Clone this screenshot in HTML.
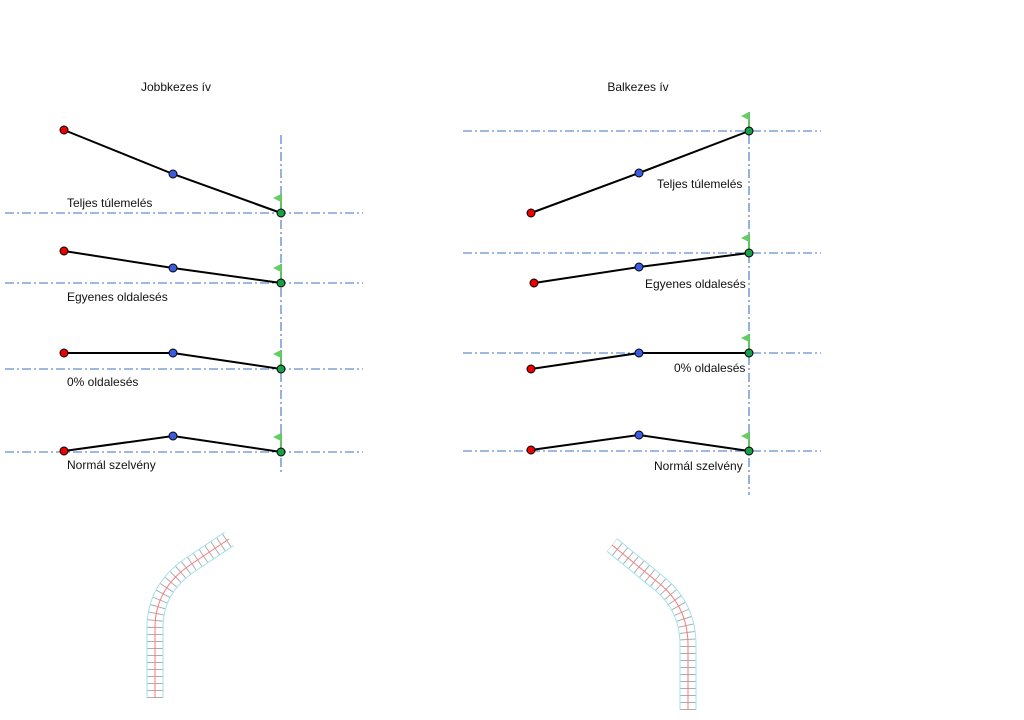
<!DOCTYPE html>
<html><head><meta charset="utf-8"><style>body{margin:0;background:#fff}svg{display:block}text{font-family:"Liberation Sans",sans-serif;font-size:12px;fill:#111}</style></head><body>
<svg width="1024" height="720" viewBox="0 0 1024 720">
<defs>
<g id="flag"><line x1="0" y1="0" x2="0" y2="-19" stroke="#5b5" stroke-width="1.8"/><polygon points="0,-19 -8,-15 0,-11" fill="#6c6"/></g>
</defs>
<g stroke="#3f72c4" stroke-width="1.1" stroke-dasharray="9,3,2,3" fill="none">
<line x1="5" y1="213" x2="363" y2="213"/><line x1="5" y1="283" x2="363" y2="283"/><line x1="5" y1="369" x2="363" y2="369"/><line x1="5" y1="452" x2="363" y2="452"/>
<line x1="281" y1="135" x2="281" y2="475"/>
<line x1="463" y1="131" x2="821" y2="131"/><line x1="463" y1="253" x2="821" y2="253"/><line x1="463" y1="353" x2="821" y2="353"/><line x1="463" y1="451" x2="821" y2="451"/>
<line x1="749" y1="118" x2="749" y2="495"/>
</g>
<g stroke="#000" stroke-width="2" fill="none">
<polyline points="64,130 173,174 281,213"/><polyline points="64,251 173,268 281,283"/><polyline points="64,353 173,353 281,369"/><polyline points="64,451 173,436 281,452"/>
<polyline points="531,213 639,173 749,131"/><polyline points="534,283 639,267 749,253"/><polyline points="531,369 639,353 749,353"/><polyline points="531,450 639,435 749,451"/>
</g>
<g>
<use href="#flag" x="281" y="213"/><use href="#flag" x="281" y="283"/><use href="#flag" x="281" y="369"/><use href="#flag" x="281" y="452"/>
<use href="#flag" x="749" y="131"/><use href="#flag" x="749" y="253"/><use href="#flag" x="749" y="353"/><use href="#flag" x="749" y="451"/>
</g>
<g stroke="#000" stroke-width="1">
<g fill="#e00"><circle cx="64" cy="130" r="4"/><circle cx="64" cy="251" r="4"/><circle cx="64" cy="353" r="4"/><circle cx="64" cy="451" r="4"/><circle cx="531" cy="213" r="4"/><circle cx="534" cy="283" r="4"/><circle cx="531" cy="369" r="4"/><circle cx="531" cy="450" r="4"/></g>
<g fill="#3a5de0"><circle cx="173" cy="174" r="4"/><circle cx="173" cy="268" r="4"/><circle cx="173" cy="353" r="4"/><circle cx="173" cy="436" r="4"/><circle cx="639" cy="173" r="4"/><circle cx="639" cy="267" r="4"/><circle cx="639" cy="353" r="4"/><circle cx="639" cy="435" r="4"/></g>
<g fill="#1a9e4a"><circle cx="281" cy="213" r="4"/><circle cx="281" cy="283" r="4"/><circle cx="281" cy="369" r="4"/><circle cx="281" cy="452" r="4"/><circle cx="749" cy="131" r="4"/><circle cx="749" cy="253" r="4"/><circle cx="749" cy="353" r="4"/><circle cx="749" cy="451" r="4"/></g>
</g>
<text x="176" y="91" text-anchor="middle">Jobbkezes ív</text>
<text x="638" y="91" text-anchor="middle">Balkezes ív</text>
<text x="67" y="207">Teljes túlemelés</text><text x="67" y="301">Egyenes oldalesés</text><text x="67" y="386">0% oldalesés</text><text x="67" y="469">Normál szelvény</text>
<text x="657" y="188">Teljes túlemelés</text><text x="645" y="288">Egyenes oldalesés</text><text x="674" y="372">0% oldalesés</text><text x="654" y="470">Normál szelvény</text>
<g fill="none">
<path d="M155,698 L155,628 C155,600 168,580 190,565 L229,539" stroke="#9ee3f0" stroke-width="17"/>
<path d="M155,698 L155,628 C155,600 168,580 190,565 L229,539" stroke="#fff" stroke-width="15"/>
<path d="M155,698 L155,628 C155,600 168,580 190,565 L229,539" stroke="#777" stroke-width="15" stroke-dasharray="1,6" opacity="0.6"/>
<path d="M155,698 L155,628 C155,600 168,580 190,565 L229,539" stroke="#f77" stroke-width="1"/>
<path d="M688,710 L688,645 C688,615 675,595 655,580 L612,545" stroke="#9ee3f0" stroke-width="17"/>
<path d="M688,710 L688,645 C688,615 675,595 655,580 L612,545" stroke="#fff" stroke-width="15"/>
<path d="M688,710 L688,645 C688,615 675,595 655,580 L612,545" stroke="#777" stroke-width="15" stroke-dasharray="1,6" opacity="0.6"/>
<path d="M688,710 L688,645 C688,615 675,595 655,580 L612,545" stroke="#f77" stroke-width="1"/>
</g>
</svg>
</body></html>
